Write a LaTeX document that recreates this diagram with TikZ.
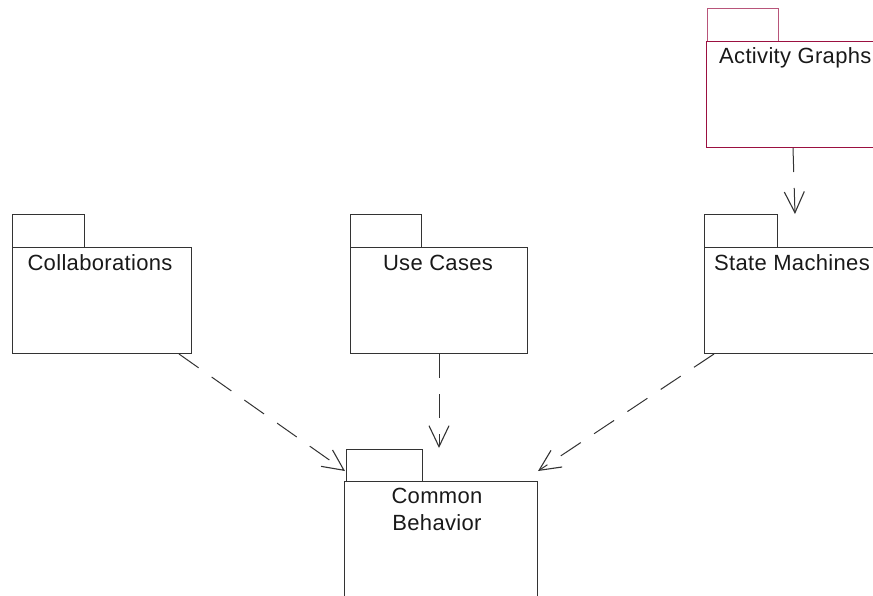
\documentclass[tikz,border=0pt]{standalone}
\usepackage{fontspec}
\setmainfont{Liberation Sans}[LetterSpace=1.5]
\usetikzlibrary{arrows.meta,calc}
\definecolor{agbody}{HTML}{9B1040}
\definecolor{agtab}{HTML}{B8557A}
\definecolor{lgray}{HTML}{333333}
\tikzset{
  pkgbody/.style={draw=lgray,line width=1pt,rectangle,inner sep=0pt,anchor=north west},
  pkgtab/.style={draw=lgray,line width=1pt,rectangle,inner sep=0pt,anchor=north west},
  lbl/.style={font=\fontsize{22pt}{27pt}\selectfont,text=black!90,inner sep=0pt},
  dep/.style={draw=black!80,line width=1pt,dash pattern=on 24pt off 16pt,
    -{Straight Barb[length=21pt,width=20pt,line width=1.1pt]}}
}
\begin{document}
\begin{tikzpicture}[x=1pt,y=-1pt]
\useasboundingbox (0,0) rectangle (873,595);
\clip (0,0) rectangle (873,595);
% Collaborations
\node[pkgtab,minimum width=72pt,minimum height=33pt] (colt) at (12,214) {};
\node[pkgbody,minimum width=179pt,minimum height=106pt] (colb) at (12,247) {};
\node[lbl,anchor=base] (coll) at (100,270) {Collaborations};
% Use Cases
\node[pkgtab,minimum width=71pt,minimum height=33pt] (uct) at (350,214) {};
\node[pkgbody,minimum width=177pt,minimum height=106pt] (ucb) at (350,247) {};
\node[lbl,anchor=base] (ucl) at (438,270) {Use Cases};
% State Machines
\node[pkgtab,minimum width=73pt,minimum height=33pt] (smt) at (704,214) {};
\node[pkgbody,minimum width=190pt,minimum height=106pt] (smb) at (704,247) {};
\node[lbl,anchor=base west] (sml) at (714,270) {State Machines};
% Activity Graphs
\node[pkgtab,draw=agtab,minimum width=71pt,minimum height=33pt] (agt) at (707,8) {};
\node[pkgbody,draw=agbody,minimum width=190pt,minimum height=106pt] (agb) at (706,41) {};
\node[lbl,anchor=base west] (agl) at (719,63) {Activity Graphs};
% Common Behavior
\node[pkgtab,minimum width=76pt,minimum height=32pt] (cbt) at (346,449) {};
\node[pkgbody,minimum width=193pt,minimum height=140pt] (cbb) at (344,481) {};
\node[lbl,anchor=base] (cbl1) at (437,503) {Common};
\node[lbl,anchor=base] (cbl2) at (437,530) {Behavior};
% dependencies
\coordinate (e1) at ($(cbt.south west)+(-1,-11)$);
\coordinate (e2) at ($(cbb.north east)+(0,-10)$);
\coordinate (e3) at ($(cbb.north west)+(95,-33)$);
\coordinate (s1) at ($(colb.south east)+(-13,0)$);
\coordinate (s2) at ($(smb.south west)+(10,0)$);
\coordinate (s4) at ($(agb.south west)+(87,0)$);
\coordinate (e4) at ($(smt.north east)+(17,0)$);
\draw[dep] (s1) -- (e1);
\draw[dep] (ucb.south) -- (e3);
\draw[dep] (s2) -- (e2);
\draw[dep] (s4) -- (e4);
\end{tikzpicture}
\end{document}
